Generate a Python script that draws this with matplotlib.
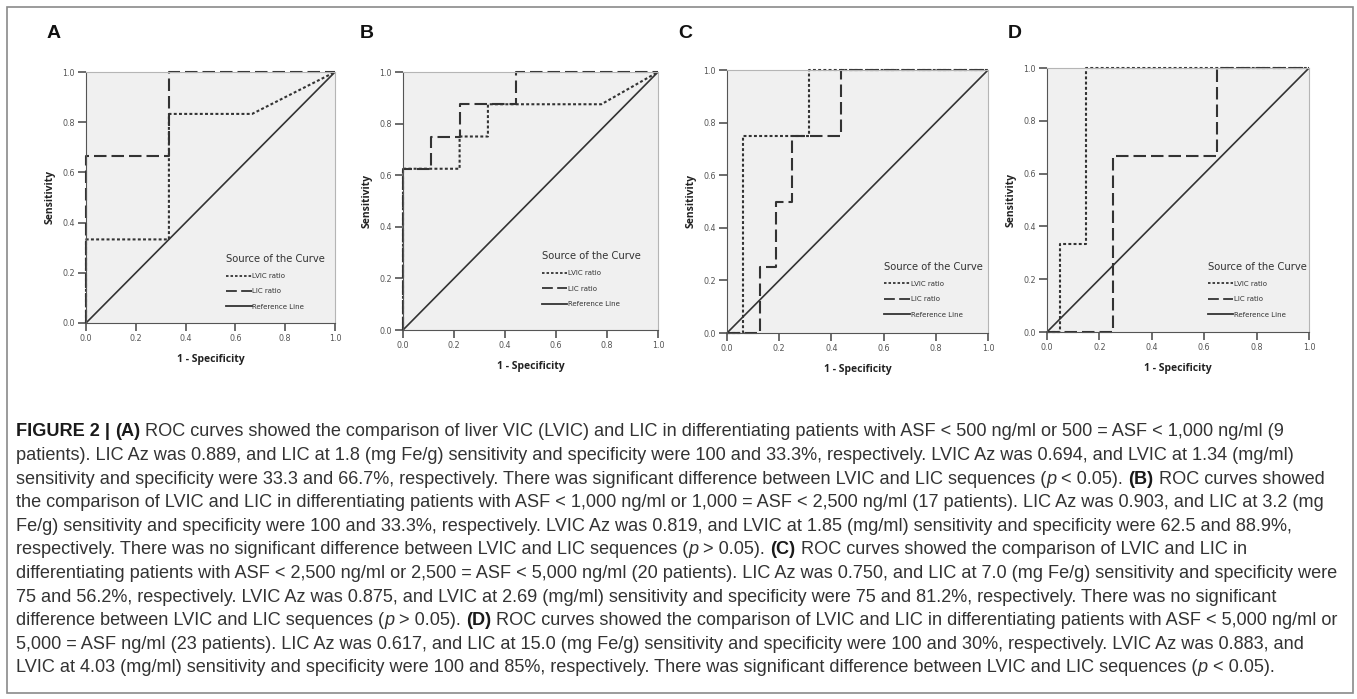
import numpy as np
import matplotlib
matplotlib.use('Agg')
import matplotlib.pyplot as plt
from matplotlib.lines import Line2D
from matplotlib.patches import Rectangle
from matplotlib.transforms import IdentityTransform

# ----------------------------------------
# ROC curve points (1 - specificity, sensitivity)
# ----------------------------------------
a_lvic_x = [0, 0, 0.333, 0.333, 0.667, 1.0]
a_lvic_y = [0, 0.333, 0.333, 0.833, 0.833, 1.0]
a_lic_x = [0, 0, 0.333, 0.333, 1.0]
a_lic_y = [0, 0.667, 0.667, 1.0, 1.0]

b_lvic_x = [0, 0, 0.222, 0.222, 0.333, 0.333, 0.778, 1.0]
b_lvic_y = [0, 0.625, 0.625, 0.75, 0.75, 0.875, 0.875, 1.0]
b_lic_x = [0, 0, 0.111, 0.111, 0.222, 0.222, 0.444, 0.444, 1.0]
b_lic_y = [0, 0.625, 0.625, 0.75, 0.75, 0.875, 0.875, 1.0, 1.0]

c_lvic_x = [0, 0.0625, 0.0625, 0.3125, 0.3125, 1.0]
c_lvic_y = [0, 0, 0.75, 0.75, 1.0, 1.0]
c_lic_x = [0, 0.125, 0.125, 0.1875, 0.1875, 0.25, 0.25, 0.4375, 0.4375, 1.0]
c_lic_y = [0, 0, 0.25, 0.25, 0.5, 0.5, 0.75, 0.75, 1.0, 1.0]

d_lvic_x = [0, 0.05, 0.05, 0.15, 0.15, 1.0]
d_lvic_y = [0, 0, 0.333, 0.333, 1.0, 1.0]
d_lic_x = [0, 0.25, 0.25, 0.65, 0.65, 1.0]
d_lic_y = [0, 0, 0.667, 0.667, 1.0, 1.0]

panel_letters = ['A', 'B', 'C', 'D']
ticks = [0.0, 0.2, 0.4, 0.6, 0.8, 1.0]
tick_labels = ['0.0', '0.2', '0.4', '0.6', '0.8', '1.0']
legend_title = 'Source of the Curve'
legend_labels = ['LVIC ratio', 'LIC ratio', 'Reference Line']

curves = [
    (a_lvic_x, a_lvic_y, a_lic_x, a_lic_y),
    (b_lvic_x, b_lvic_y, b_lic_x, b_lic_y),
    (c_lvic_x, c_lvic_y, c_lic_x, c_lic_y),
    (d_lvic_x, d_lvic_y, d_lic_x, d_lic_y),
]

# caption: each line is a list of (text, bold, italic) runs
caption_lines = [
    [('FIGURE 2 | ', 1, 0), ('(A)', 1, 0), (' ROC curves showed the comparison of liver VIC (LVIC) and LIC in differentiating patients with ASF < 500 ng/ml or 500 = ASF < 1,000 ng/ml (9', 0, 0)],
    [('patients). LIC Az was 0.889, and LIC at 1.8 (mg Fe/g) sensitivity and specificity were 100 and 33.3%, respectively. LVIC Az was 0.694, and LVIC at 1.34 (mg/ml)', 0, 0)],
    [('sensitivity and specificity were 33.3 and 66.7%, respectively. There was significant difference between LVIC and LIC sequences (', 0, 0), ('p', 0, 1), (' < 0.05). ', 0, 0), ('(B)', 1, 0), (' ROC curves showed', 0, 0)],
    [('the comparison of LVIC and LIC in differentiating patients with ASF < 1,000 ng/ml or 1,000 = ASF < 2,500 ng/ml (17 patients). LIC Az was 0.903, and LIC at 3.2 (mg', 0, 0)],
    [('Fe/g) sensitivity and specificity were 100 and 33.3%, respectively. LVIC Az was 0.819, and LVIC at 1.85 (mg/ml) sensitivity and specificity were 62.5 and 88.9%,', 0, 0)],
    [('respectively. There was no significant difference between LVIC and LIC sequences (', 0, 0), ('p', 0, 1), (' > 0.05). ', 0, 0), ('(C)', 1, 0), (' ROC curves showed the comparison of LVIC and LIC in', 0, 0)],
    [('differentiating patients with ASF < 2,500 ng/ml or 2,500 = ASF < 5,000 ng/ml (20 patients). LIC Az was 0.750, and LIC at 7.0 (mg Fe/g) sensitivity and specificity were', 0, 0)],
    [('75 and 56.2%, respectively. LVIC Az was 0.875, and LVIC at 2.69 (mg/ml) sensitivity and specificity were 75 and 81.2%, respectively. There was no significant', 0, 0)],
    [('difference between LVIC and LIC sequences (', 0, 0), ('p', 0, 1), (' > 0.05). ', 0, 0), ('(D)', 1, 0), (' ROC curves showed the comparison of LVIC and LIC in differentiating patients with ASF < 5,000 ng/ml or', 0, 0)],
    [('5,000 = ASF ng/ml (23 patients). LIC Az was 0.617, and LIC at 15.0 (mg Fe/g) sensitivity and specificity were 100 and 30%, respectively. LVIC Az was 0.883, and', 0, 0)],
    [('LVIC at 4.03 (mg/ml) sensitivity and specificity were 100 and 85%, respectively. There was significant difference between LVIC and LIC sequences (', 0, 0), ('p', 0, 1), (' < 0.05).', 0, 0)],
]

# ----------------------------------------
# layout (pixels, from top-left)
# ----------------------------------------
W, H = 1357, 699
boxes = [(86, 335, 72, 323), (403, 658, 72, 330), (727, 988, 70, 333), (1047, 1309, 68, 332)]
letter_pos = [(47, 33), (360, 33), (678, 33), (1008, 33)]
legend_pos = [(0.55, 0.29), (0.53, 0.32), (0.59, 0.285), (0.60, 0.28)]

ink = '#333333'
fig = plt.figure(figsize=(W / 100, H / 100), dpi=100)
fig.patches.append(Rectangle((7 / W, 6 / H), 1346 / W, 686 / H, transform=fig.transFigure,
                             fill=False, edgecolor='#8a8a8a', lw=1.2))

dot_style = (0, (1.4, 1.1))
dash_style = (0, (6, 2.4))

for i, (l, r, t, b) in enumerate(boxes):
    ax = fig.add_axes([l / W, 1 - b / H, (r - l) / W, (b - t) / H])
    ax.set_facecolor('#f0f0f0')
    lvx, lvy, lcx, lcy = curves[i]
    ax.plot([0, 1], [0, 1], color=ink, lw=1.2, solid_capstyle='butt', clip_on=False)
    ax.plot(lcx, lcy, color=ink, lw=1.5, linestyle=dash_style, clip_on=False)
    ax.plot(lvx, lvy, color=ink, lw=1.5, linestyle=dot_style, clip_on=False)
    ax.set_xlim(0, 1)
    ax.set_ylim(0, 1)
    ax.set_xticks(ticks)
    ax.set_xticklabels(tick_labels)
    ax.set_yticks(ticks)
    ax.set_yticklabels(tick_labels)
    ax.tick_params(direction='out', length=6, width=1.1, color='#444444',
                   labelsize=5.8, labelcolor='#555555', pad=2)
    for s in ['top', 'right']:
        ax.spines[s].set_color('#b5b5b5')
    for s in ['left', 'bottom']:
        ax.spines[s].set_color('#555555')
    ax.set_xlabel('1 - Specificity', fontsize=7.5, fontweight='bold', family='Open Sans',
                  color='#222222', labelpad=8)
    ax.set_ylabel('Sensitivity', fontsize=7.5, fontweight='bold', family='Open Sans',
                  color='#222222', labelpad=5)

    handles = [Line2D([], [], color=ink, lw=1.3, linestyle=dot_style),
               Line2D([], [], color=ink, lw=1.3, linestyle=dash_style),
               Line2D([], [], color=ink, lw=1.3)]
    leg = ax.legend(handles, legend_labels, title=legend_title, loc='upper left',
                    bbox_to_anchor=legend_pos[i], frameon=False, fontsize=5,
                    title_fontsize=7.2, handlelength=3.7, handletextpad=0.05,
                    labelspacing=1.35, borderpad=0, alignment='left')
    for txt in leg.get_texts():
        txt.set_color('#333333')
    leg.get_title().set_color('#333333')

    lx, ly = letter_pos[i]
    fig.text(lx / W, 1 - ly / H, panel_letters[i], fontsize=14, fontweight='bold',
             family='Liberation Sans', color='#111111', va='center', ha='left')

# ----------------------------------------
# caption, drawn run by run
# ----------------------------------------
renderer = fig.canvas.get_renderer()
cap_size = 13.1


def run_width(text, bold, italic):
    kw = dict(fontsize=cap_size, family='Liberation Sans',
              fontweight='bold' if bold else 'normal',
              fontstyle='italic' if italic else 'normal')
    t1 = fig.text(0, 0, '|' + text + '|', **kw)
    t2 = fig.text(0, 0, '||', **kw)
    w = t1.get_window_extent(renderer).width - t2.get_window_extent(renderer).width
    t1.remove()
    t2.remove()
    return w


for k, line in enumerate(caption_lines):
    x = 16
    y = H - (432 + 23.6 * k)
    for text, bold, italic in line:
        fig.text(x, y, text, transform=IdentityTransform(), fontsize=cap_size,
                 family='Liberation Sans', fontweight='bold' if bold else 'normal',
                 fontstyle='italic' if italic else 'normal',
                 color='#1a1a1a' if bold else '#333333', va='center', ha='left')
        x += run_width(text, bold, italic)

fig.savefig('out.png', dpi=100)
